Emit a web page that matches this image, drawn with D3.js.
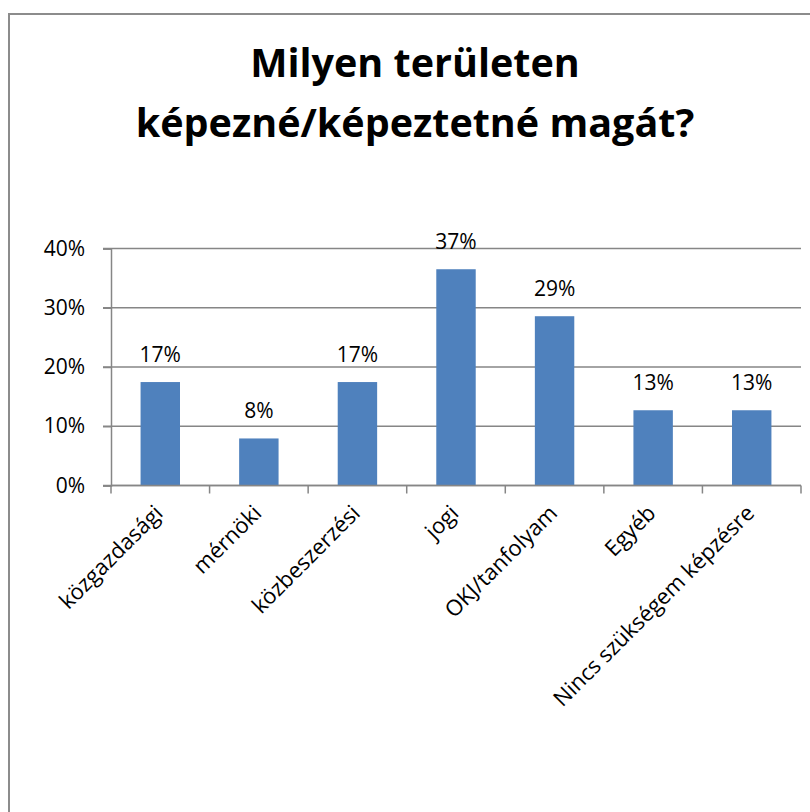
<!DOCTYPE html>
<html>
<head>
<meta charset="utf-8">
<script src="https://cdn.jsdelivr.net/npm/d3@7"></script>
<style>
  body { margin: 0; background: #fff; }
  text { font-family: "Open Sans", Lato, sans-serif; fill: #000; }
</style>
</head>
<body>
<div id="chart"></div>
<script>
const categories = ["közgazdasági", "mérnöki", "közbeszerzési", "jogi", "OKJ/tanfolyam", "Egyéb", "Nincs szükségem képzésre"];
const values = [0.1746, 0.0794, 0.1746, 0.365, 0.2857, 0.127, 0.127];
const yTicks = [0, 0.1, 0.2, 0.3, 0.4];
const titleLines = ["Milyen területen", "képezné/képeztetné magát?"];

const width = 810, height = 812;
const plot = {left: 111, right: 801, top: 248.5, bottom: 485.5};

const svg = d3.select("#chart")
    .append("svg")
    .attr("width", width)
    .attr("height", height);

// Chart frame (runs off the page at right and bottom)
svg.append("rect")
    .attr("x", 9)
    .attr("y", 14)
    .attr("width", 830)
    .attr("height", 830)
    .attr("fill", "#fff")
    .attr("stroke", "#8c8c8c")
    .attr("stroke-width", 2);

// Title
svg.append("g").selectAll("text")
    .data(titleLines)
    .join("text")
    .attr("x", 415)
    .attr("y", (d, i) => 77 + i * 60)
    .attr("text-anchor", "middle")
    .style("font-size", "39.5px")
    .style("font-weight", "bold")
    .text(d => d);

// Scales
const xScale = d3.scaleBand()
    .domain(categories)
    .range([plot.left, plot.right])
    .paddingInner(0.6)
    .paddingOuter(0.3);

const yScale = d3.scaleLinear()
    .domain([0, 0.4])
    .range([plot.bottom, plot.top]);

const step = xScale.step();
const pct = d3.format(".0%");

// Gridlines
svg.append("g").selectAll("line")
    .data(yTicks)
    .join("line")
    .attr("x1", plot.left - 8)
    .attr("x2", plot.right)
    .attr("y1", d => yScale(d))
    .attr("y2", d => yScale(d))
    .attr("stroke", "#868686")
    .attr("stroke-width", 1.5);

// Y axis
const yAxis = svg.append("g")
    .attr("transform", `translate(${plot.left},0)`)
    .call(d3.axisLeft(yScale).tickValues(yTicks).tickFormat(pct).tickSize(8).tickPadding(18));
yAxis.select(".domain").attr("stroke", "#868686").attr("stroke-width", 1.5);
yAxis.selectAll(".tick line").attr("stroke", "#868686").attr("stroke-width", 1.5);
yAxis.selectAll(".tick text")
    .style("font-family", "'Open Sans', sans-serif")
    .style("font-size", "21px")
    .attr("fill", "#000");

// Bars
svg.append("g").selectAll("rect")
    .data(values)
    .join("rect")
    .attr("x", (d, i) => xScale(categories[i]))
    .attr("y", d => yScale(d))
    .attr("width", xScale.bandwidth())
    .attr("height", d => yScale(0) - yScale(d))
    .attr("fill", "#4F81BD");

// Data labels
svg.append("g").selectAll("text")
    .data(values)
    .join("text")
    .attr("x", (d, i) => xScale(categories[i]) + xScale.bandwidth() / 2)
    .attr("y", d => yScale(d) - 20)
    .attr("text-anchor", "middle")
    .style("font-size", "21px")
    .text(d => pct(d));

// X axis: line plus tick marks at category boundaries
const xAxis = svg.append("g");
xAxis.append("line")
    .attr("x1", plot.left)
    .attr("x2", plot.right)
    .attr("y1", plot.bottom)
    .attr("y2", plot.bottom)
    .attr("stroke", "#868686")
    .attr("stroke-width", 1.5);
xAxis.selectAll(".xtick")
    .data(d3.range(categories.length + 1))
    .join("line")
    .attr("class", "xtick")
    .attr("x1", i => plot.left + i * step)
    .attr("x2", i => plot.left + i * step)
    .attr("y1", plot.bottom)
    .attr("y2", plot.bottom + 8)
    .attr("stroke", "#868686")
    .attr("stroke-width", 1.5);

// Rotated category labels
xAxis.selectAll(".xlabel")
    .data(categories)
    .join("text")
    .attr("class", "xlabel")
    .attr("text-anchor", "end")
    .attr("transform", d => `translate(${xScale(d) + xScale.bandwidth() / 2 + 4},${plot.bottom + 29}) rotate(-45)`)
    .style("font-size", "22px")
    .text(d => d);
</script>
</body>
</html>
